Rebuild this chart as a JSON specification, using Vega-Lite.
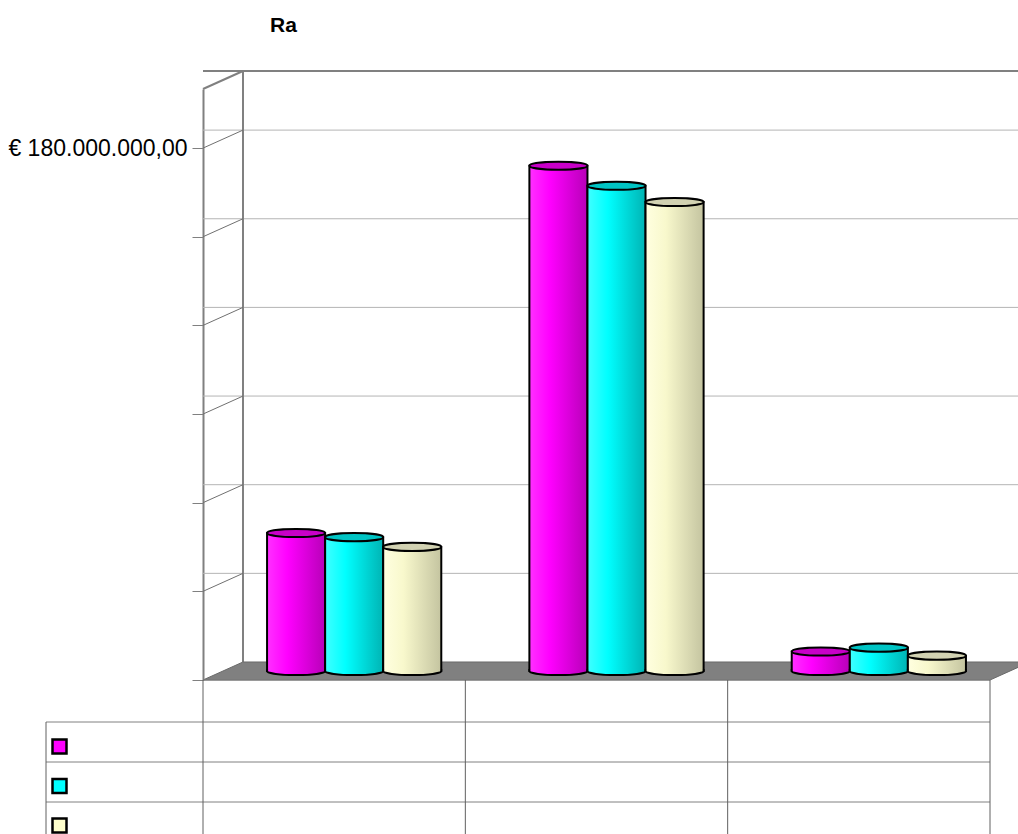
{
  "$schema": "https://vega.github.io/schema/vega-lite/v6.json",
  "autosize": "none",
  "width": 787,
  "height": 591,
  "padding": {"left": 203, "top": 89, "right": 28, "bottom": 154},
  "background": "white",
  "title": {"text": "Ra", "anchor": "start", "frame": "group", "dx": 67, "offset": 31, "font": "Liberation Sans", "fontSize": 21, "fontWeight": "bold", "color": "black"},
  "datasets": {
    "bars": [
      {"k": "K1", "s": "S1", "v": 46700000},
      {"k": "K1", "s": "S2", "v": 45300000},
      {"k": "K1", "s": "S3", "v": 42000000},
      {"k": "K2", "s": "S1", "v": 171000000},
      {"k": "K2", "s": "S2", "v": 164200000},
      {"k": "K2", "s": "S3", "v": 158700000},
      {"k": "K3", "s": "S1", "v": 6600000},
      {"k": "K3", "s": "S2", "v": 7900000},
      {"k": "K3", "s": "S3", "v": 5200000}
    ],
    "grid": [
      {"v": 30000000}, {"v": 60000000}, {"v": 90000000},
      {"v": 120000000}, {"v": 150000000}, {"v": 180000000}
    ],
    "cats": [{"k": "K1"}, {"k": "K2"}, {"k": "K3"}],
    "one": [{}]
  },
  "config": {
    "view": {"stroke": null},
    "font": "Liberation Sans"
  },
  "layer": [
    {
      "data": {"name": "grid"},
      "mark": {"type": "rule", "color": "#b4b4b4", "strokeWidth": 1, "xOffset": 40, "x2Offset": 40, "yOffset": -18},
      "encoding": {
        "y": {
          "field": "v", "type": "quantitative", "title": null,
          "scale": {"domain": [0, 200000000], "nice": false, "zero": true},
          "axis": {
            "values": [0, 30000000, 60000000, 90000000, 120000000, 150000000, 180000000],
            "grid": false, "title": null,
            "domainColor": "#808080", "domainWidth": 2,
            "tickColor": "#808080", "tickSize": 11, "tickWidth": 1,
            "labelExpr": "datum.value == 180000000 ? '€ 180.000.000,00' : ''",
            "labelFont": "Liberation Sans", "labelFontSize": 23, "labelColor": "black", "labelPadding": 5
          }
        }
      }
    },
    {
      "data": {"name": "one"},
      "mark": {"type": "rule", "color": "#808080", "strokeWidth": 2, "xOffset": 40, "x2Offset": 40, "yOffset": -18},
      "encoding": {"y": {"datum": 200000000, "type": "quantitative", "title": null}}
    },
    {
      "data": {"name": "one"},
      "mark": {"type": "rule", "color": "#808080", "strokeWidth": 2, "xOffset": 40, "yOffset": -18, "y2Offset": -18},
      "encoding": {
        "x": {"datum": "K1", "type": "nominal", "bandPosition": 0, "scale": {"domain": ["K1", "K2", "K3"], "paddingInner": 0, "paddingOuter": 0}, "axis": null},
        "y": {"datum": 0, "type": "quantitative", "title": null},
        "y2": {"datum": 200000000}
      }
    },
    {
      "data": {"name": "grid"},
      "mark": {"type": "point", "shape": "M -1 0.45 L 1 -0.45", "size": 1600, "filled": false, "stroke": "#707070", "strokeWidth": 1, "opacity": 1, "xOffset": 20, "yOffset": -9},
      "encoding": {
        "x": {"datum": "K1", "type": "nominal", "bandPosition": 0, "axis": null},
        "y": {"field": "v", "type": "quantitative", "title": null}
      }
    },
    {
      "data": {"name": "one"},
      "mark": {"type": "point", "shape": "M -1 0.45 L 1 -0.45", "size": 1600, "filled": false, "stroke": "#808080", "strokeWidth": 2, "opacity": 1, "xOffset": 20, "yOffset": -9},
      "encoding": {
        "x": {"datum": "K1", "type": "nominal", "bandPosition": 0, "axis": null},
        "y": {"datum": 200000000, "type": "quantitative", "title": null}
      }
    },
    {
      "data": {"name": "one"},
      "mark": {"type": "point", "shape": "M -1 0.0218 L 0.9033 0.0218 L 1 -0.0218 L -0.9033 -0.0218 Z", "size": 683929, "filled": true, "fill": "#808080", "stroke": "#6a6a6a", "strokeWidth": 1, "opacity": 1, "xOffset": 20, "yOffset": -9},
      "encoding": {
        "x": {"datum": "K2", "type": "nominal", "axis": null},
        "y": {"datum": 0, "type": "quantitative", "title": null}
      }
    },
    {
      "data": {"name": "bars"},
      "transform": [{"filter": "datum.s == 'S1'"}],
      "layer": [
        {
          "mark": {"type": "bar", "stroke": "black", "strokeWidth": 2, "yOffset": -9, "y2Offset": -9,
            "fill": {"gradient": "linear", "x1": 0, "y1": 0, "x2": 1, "y2": 0, "stops": [{"offset": 0, "color": "#ff30ff"}, {"offset": 0.35, "color": "#ff00ff"}, {"offset": 1, "color": "#b800b8"}]}},
          "encoding": {
            "x": {"field": "k", "type": "nominal", "axis": null},
            "xOffset": {"field": "s", "scale": {"domain": ["S1", "S2", "S3"], "paddingInner": 0, "paddingOuter": 0.7586, "align": 0.727}},
            "y": {"field": "v", "type": "quantitative", "title": null}
          }
        },
        {
          "mark": {"type": "point", "shape": "M -1 -0.07 L -1 0 A 1 0.14 0 0 0 1 0 L 1 -0.07", "size": 3364, "filled": true, "opacity": 1, "stroke": "black", "strokeWidth": 2, "yOffset": -9,
            "fill": {"gradient": "linear", "x1": 0, "y1": 0, "x2": 1, "y2": 0, "stops": [{"offset": 0, "color": "#ff30ff"}, {"offset": 0.35, "color": "#ff00ff"}, {"offset": 1, "color": "#b800b8"}]}},
          "encoding": {
            "x": {"field": "k", "type": "nominal", "axis": null},
            "xOffset": {"field": "s"},
            "y": {"datum": 0, "type": "quantitative", "title": null}
          }
        },
        {
          "mark": {"type": "point", "shape": "M -1 0 A 1 0.14 0 0 0 1 0 A 1 0.14 0 0 0 -1 0 Z", "size": 3364, "filled": true, "opacity": 1, "fill": "#c800c8", "stroke": "black", "strokeWidth": 2, "yOffset": -9},
          "encoding": {
            "x": {"field": "k", "type": "nominal", "axis": null},
            "xOffset": {"field": "s"},
            "y": {"field": "v", "type": "quantitative", "title": null}
          }
        }
      ]
    },
    {
      "data": {"name": "bars"},
      "transform": [{"filter": "datum.s == 'S2'"}],
      "layer": [
        {
          "mark": {"type": "bar", "stroke": "black", "strokeWidth": 2, "yOffset": -9, "y2Offset": -9,
            "fill": {"gradient": "linear", "x1": 0, "y1": 0, "x2": 1, "y2": 0, "stops": [{"offset": 0, "color": "#40ffff"}, {"offset": 0.35, "color": "#00ffff"}, {"offset": 1, "color": "#00b4b4"}]}},
          "encoding": {
            "x": {"field": "k", "type": "nominal", "axis": null},
            "xOffset": {"field": "s"},
            "y": {"field": "v", "type": "quantitative", "title": null}
          }
        },
        {
          "mark": {"type": "point", "shape": "M -1 -0.07 L -1 0 A 1 0.14 0 0 0 1 0 L 1 -0.07", "size": 3364, "filled": true, "opacity": 1, "stroke": "black", "strokeWidth": 2, "yOffset": -9,
            "fill": {"gradient": "linear", "x1": 0, "y1": 0, "x2": 1, "y2": 0, "stops": [{"offset": 0, "color": "#40ffff"}, {"offset": 0.35, "color": "#00ffff"}, {"offset": 1, "color": "#00b4b4"}]}},
          "encoding": {
            "x": {"field": "k", "type": "nominal", "axis": null},
            "xOffset": {"field": "s"},
            "y": {"datum": 0, "type": "quantitative", "title": null}
          }
        },
        {
          "mark": {"type": "point", "shape": "M -1 0 A 1 0.14 0 0 0 1 0 A 1 0.14 0 0 0 -1 0 Z", "size": 3364, "filled": true, "opacity": 1, "fill": "#00c4c4", "stroke": "black", "strokeWidth": 2, "yOffset": -9},
          "encoding": {
            "x": {"field": "k", "type": "nominal", "axis": null},
            "xOffset": {"field": "s"},
            "y": {"field": "v", "type": "quantitative", "title": null}
          }
        }
      ]
    },
    {
      "data": {"name": "bars"},
      "transform": [{"filter": "datum.s == 'S3'"}],
      "layer": [
        {
          "mark": {"type": "bar", "stroke": "black", "strokeWidth": 2, "yOffset": -9, "y2Offset": -9,
            "fill": {"gradient": "linear", "x1": 0, "y1": 0, "x2": 1, "y2": 0, "stops": [{"offset": 0, "color": "#ffffe0"}, {"offset": 0.35, "color": "#f8f8cc"}, {"offset": 1, "color": "#c4c4a0"}]}},
          "encoding": {
            "x": {"field": "k", "type": "nominal", "axis": null},
            "xOffset": {"field": "s"},
            "y": {"field": "v", "type": "quantitative", "title": null}
          }
        },
        {
          "mark": {"type": "point", "shape": "M -1 -0.07 L -1 0 A 1 0.14 0 0 0 1 0 L 1 -0.07", "size": 3364, "filled": true, "opacity": 1, "stroke": "black", "strokeWidth": 2, "yOffset": -9,
            "fill": {"gradient": "linear", "x1": 0, "y1": 0, "x2": 1, "y2": 0, "stops": [{"offset": 0, "color": "#ffffe0"}, {"offset": 0.35, "color": "#f8f8cc"}, {"offset": 1, "color": "#c4c4a0"}]}},
          "encoding": {
            "x": {"field": "k", "type": "nominal", "axis": null},
            "xOffset": {"field": "s"},
            "y": {"datum": 0, "type": "quantitative", "title": null}
          }
        },
        {
          "mark": {"type": "point", "shape": "M -1 0 A 1 0.14 0 0 0 1 0 A 1 0.14 0 0 0 -1 0 Z", "size": 3364, "filled": true, "opacity": 1, "fill": "#d2d2b2", "stroke": "black", "strokeWidth": 2, "yOffset": -9},
          "encoding": {
            "x": {"field": "k", "type": "nominal", "axis": null},
            "xOffset": {"field": "s"},
            "y": {"field": "v", "type": "quantitative", "title": null}
          }
        }
      ]
    },
    {
      "data": {"name": "bars"},
      "mark": {"type": "point", "filled": true, "opacity": 0},
      "encoding": {
        "x": {"field": "k", "type": "nominal", "axis": null},
        "xOffset": {"field": "s"},
        "y": {"field": "v", "type": "quantitative", "title": null},
        "color": {
          "field": "s", "type": "nominal",
          "scale": {"domain": ["S1", "S2", "S3"], "range": ["#ff00ff", "#00ffff", "#ffffcc"]},
          "legend": {
            "orient": "none", "legendX": -152, "legendY": 649, "title": null,
            "symbolType": "square", "symbolSize": 196, "symbolStrokeColor": "black", "symbolStrokeWidth": 2.5,
            "symbolOpacity": 1, "labelExpr": "''", "rowPadding": 14.5, "padding": 0,
            "encode": {"symbols": {"update": {"opacity": {"value": 1}, "fillOpacity": {"value": 1}, "stroke": {"value": "black"}}}}
          }
        }
      }
    },
    {
      "data": {"name": "one"},
      "mark": {"type": "rule", "color": "#808080", "strokeWidth": 1},
      "encoding": {"y": {"datum": 0, "type": "quantitative", "title": null}}
    },
    {
      "data": {"name": "one"},
      "mark": {"type": "rule", "color": "#808080", "strokeWidth": 1, "yOffset": 42},
      "encoding": {"y": {"datum": 0, "type": "quantitative", "title": null}}
    },
    {
      "data": {"name": "one"},
      "mark": {"type": "rule", "color": "#808080", "strokeWidth": 1, "yOffset": 82},
      "encoding": {"y": {"datum": 0, "type": "quantitative", "title": null}}
    },
    {
      "data": {"name": "one"},
      "mark": {"type": "rule", "color": "#808080", "strokeWidth": 1, "yOffset": 122},
      "encoding": {"y": {"datum": 0, "type": "quantitative", "title": null}}
    },
    {
      "data": {"name": "one"},
      "mark": {"type": "rule", "color": "#808080", "strokeWidth": 1, "xOffset": -157, "yOffset": 42},
      "encoding": {
        "x": {"datum": "K1", "type": "nominal", "bandPosition": 0, "axis": null},
        "x2": {"datum": "K1", "bandPosition": 0},
        "y": {"datum": 0, "type": "quantitative", "title": null}
      }
    },
    {
      "data": {"name": "one"},
      "mark": {"type": "rule", "color": "#808080", "strokeWidth": 1, "xOffset": -157, "yOffset": 82},
      "encoding": {
        "x": {"datum": "K1", "type": "nominal", "bandPosition": 0, "axis": null},
        "x2": {"datum": "K1", "bandPosition": 0},
        "y": {"datum": 0, "type": "quantitative", "title": null}
      }
    },
    {
      "data": {"name": "one"},
      "mark": {"type": "rule", "color": "#808080", "strokeWidth": 1, "xOffset": -157, "yOffset": 122},
      "encoding": {
        "x": {"datum": "K1", "type": "nominal", "bandPosition": 0, "axis": null},
        "x2": {"datum": "K1", "bandPosition": 0},
        "y": {"datum": 0, "type": "quantitative", "title": null}
      }
    },
    {
      "data": {"name": "cats"},
      "mark": {"type": "rule", "color": "#606060", "strokeWidth": 1, "y2Offset": 160},
      "encoding": {
        "x": {"field": "k", "type": "nominal", "bandPosition": 0, "axis": null},
        "y": {"datum": 0, "type": "quantitative", "title": null},
        "y2": {"datum": 0}
      }
    },
    {
      "data": {"name": "one"},
      "mark": {"type": "rule", "color": "#606060", "strokeWidth": 1, "y2Offset": 160},
      "encoding": {
        "x": {"datum": "K3", "type": "nominal", "bandPosition": 1, "axis": null},
        "y": {"datum": 0, "type": "quantitative", "title": null},
        "y2": {"datum": 0}
      }
    },
    {
      "data": {"name": "one"},
      "mark": {"type": "rule", "color": "#606060", "strokeWidth": 1, "xOffset": -157, "yOffset": 42, "y2Offset": 160},
      "encoding": {
        "x": {"datum": "K1", "type": "nominal", "bandPosition": 0, "axis": null},
        "y": {"datum": 0, "type": "quantitative", "title": null},
        "y2": {"datum": 0}
      }
    }
  ]
}
